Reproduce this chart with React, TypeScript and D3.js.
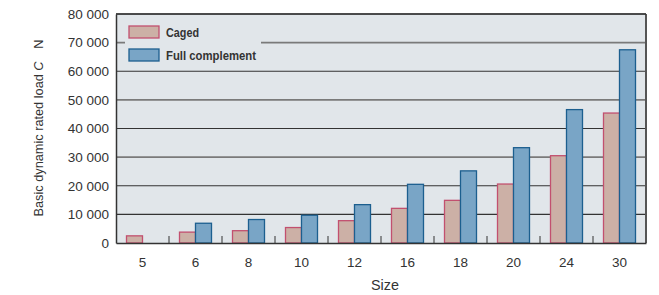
import { useEffect, useRef } from "react";
import * as d3 from "d3";

const WIDTH = 659;
const HEIGHT = 295;
const MARGIN = { top: 14, right: 13, bottom: 52, left: 116 };

const sizes = ["5", "6", "8", "10", "12", "16", "18", "20", "24", "30"];
const caged = [2500, 3800, 4300, 5400, 7800, 12100, 14900, 20600, 30500, 45400];
const fullComplement = [0, 6900, 8200, 9700, 13400, 20500, 25200, 33300, 46600, 67500];
const yTicks = [0, 10000, 20000, 30000, 40000, 50000, 60000, 70000, 80000];
const greyLines = [30000, 50000, 70000];

const COLORS = {
  bg: "#e1e6ea",
  cagedFill: "#ccb0a6",
  cagedStroke: "#c2506f",
  fullFill: "#79a5c6",
  fullStroke: "#1c5f8f",
};

const SANS = "'Liberation Sans', Arial, sans-serif";

export default function App() {
  const axesRef = useRef<SVGGElement>(null);
  const boundsWidth = WIDTH - MARGIN.left - MARGIN.right;
  const boundsHeight = HEIGHT - MARGIN.top - MARGIN.bottom;

  const xScale = d3.scaleBand().domain(sizes).range([0, boundsWidth]).padding(0);
  const yScale = d3.scaleLinear().domain([0, 80000]).range([boundsHeight, 0]);
  const barW = 16;

  // axes with d3
  useEffect(() => {
    const g = d3.select(axesRef.current);
    g.selectAll("*").remove();
    const yAxis = d3
      .axisLeft(yScale)
      .tickValues(yTicks)
      .tickSize(0)
      .tickPadding(7)
      .tickFormat((d) => (d === 0 ? "0" : d3.format(",")(d as number).replace(",", " ")));
    const ya = g.append("g").call(yAxis);
    ya.select(".domain").attr("stroke", "#333").attr("stroke-width", 1.5);
    ya.selectAll(".tick text")
      .attr("font-family", SANS)
      .attr("font-size", 13.5)
      .attr("fill", "#333");

    const xAxis = d3.axisBottom(xScale).tickSize(0).tickPadding(14);
    const xa = g.append("g").attr("transform", `translate(0,${boundsHeight})`).call(xAxis);
    xa.select(".domain").attr("stroke", "#333").attr("stroke-width", 1.5);
    xa.selectAll(".tick text")
      .attr("font-family", SANS)
      .attr("font-size", 13.5)
      .attr("fill", "#333");
  }, []);

  return (
    <svg width={WIDTH} height={HEIGHT} style={{ position: "absolute", left: 0, top: 0 }}>
      <g transform={`translate(${MARGIN.left},${MARGIN.top})`}>
        <rect x={0} y={0} width={boundsWidth} height={boundsHeight} fill={COLORS.bg} />
        {yTicks.slice(1).map((t) => {
          const grey = greyLines.includes(t);
          return (
            <line
              key={t}
              x1={0}
              x2={boundsWidth}
              y1={yScale(t)}
              y2={yScale(t)}
              stroke={grey ? "#7a7a7a" : "#333"}
              strokeWidth={grey ? 1.8 : 1.2}
            />
          );
        })}
        <line x1={boundsWidth} x2={boundsWidth} y1={0} y2={boundsHeight} stroke="#555" strokeWidth={2} />
        {/* group separator ticks */}
        {sizes.slice(1).map((s) => (
          <line
            key={s}
            x1={xScale(s)!}
            x2={xScale(s)!}
            y1={boundsHeight}
            y2={boundsHeight - 7}
            stroke="#333"
            strokeWidth={1}
          />
        ))}
        {sizes.map((s, i) => {
          const cx = xScale(s)! + xScale.bandwidth() / 2;
          return (
            <g key={s}>
              <rect
                x={cx - barW}
                y={yScale(caged[i])}
                width={barW}
                height={boundsHeight - yScale(caged[i])}
                fill={COLORS.cagedFill}
                stroke={COLORS.cagedStroke}
                strokeWidth={1.3}
              />
              {fullComplement[i] > 0 && (
                <rect
                  x={cx}
                  y={yScale(fullComplement[i])}
                  width={barW}
                  height={boundsHeight - yScale(fullComplement[i])}
                  fill={COLORS.fullFill}
                  stroke={COLORS.fullStroke}
                  strokeWidth={1.3}
                />
              )}
            </g>
          );
        })}
        {/* legend */}
        <rect x={9} y={1} width={136} height={53} fill={COLORS.bg} />
        <rect x={13} y={12} width={30} height={12} fill={COLORS.cagedFill} stroke={COLORS.cagedStroke} strokeWidth={1.3} />
        <text x={50} y={23} fontFamily={SANS} fontWeight="bold" fontSize={13} fill="#333" textLength={33} lengthAdjust="spacingAndGlyphs">
          Caged
        </text>
        <rect x={13} y={35} width={30} height={12} fill={COLORS.fullFill} stroke={COLORS.fullStroke} strokeWidth={1.3} />
        <text x={50} y={46} fontFamily={SANS} fontWeight="bold" fontSize={13} fill="#333" textLength={90} lengthAdjust="spacingAndGlyphs">
          Full complement
        </text>
        <line x1={0} x2={boundsWidth} y1={0} y2={0} stroke="#333" strokeWidth={1.5} />
        <g ref={axesRef} />
      </g>
      <text
        transform={`translate(43,128) rotate(-90)`}
        textAnchor="middle"
        fontFamily={SANS}
        fontSize={13}
        fill="#333"
        textLength={177}
        lengthAdjust="spacingAndGlyphs"
      >
        Basic dynamic rated load <tspan fontStyle="italic">C</tspan>{"\u2002\u2002"}N
      </text>
      <text x={385} y={290} textAnchor="middle" fontFamily={SANS} fontSize={15} fill="#333" textLength={28} lengthAdjust="spacingAndGlyphs">
        Size
      </text>
    </svg>
  );
}
